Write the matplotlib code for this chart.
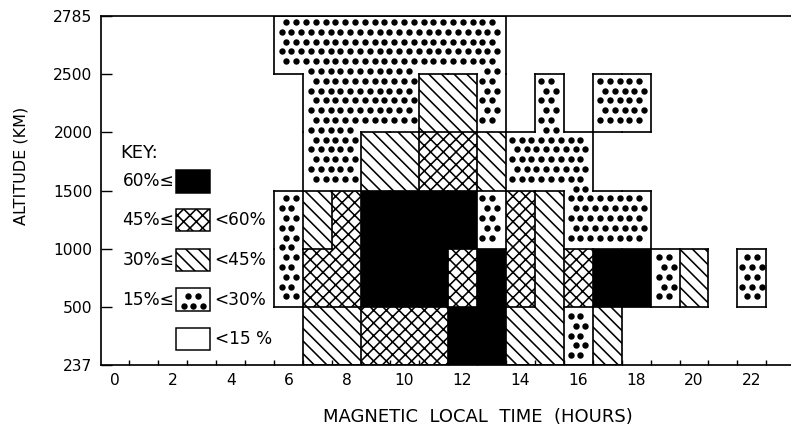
import numpy as np
import matplotlib
matplotlib.use("Agg")
import matplotlib.pyplot as plt
from matplotlib.patches import Rectangle
from matplotlib.collections import LineCollection

# magnetic local time, one column per hour (bin h-0.5 .. h+0.5)
hours = list(range(5, 23))
altitudes = [237, 500, 1000, 1500, 2000, 2500, 2785]
xtick_hours = list(range(0, 23, 2))

# one string per altitude band (bottom to top), one letter per hour in `hours`
# B >=60%, X 45-60%, H 30-45%, D 15-30%, W <15%, . no data
band_237_500 = "..HHXXXBBHHDH....."
band_500_1000 = ".DXXBBBXBXHXBBDH.D"
band_1000_1500 = ".DHXBBBBDXHDDD...."
band_1500_2000 = "..DDHHXXHDDD......"
band_2000_2500 = "..DDDDHHD.D.DD...."
band_2500_2785 = ".DDDDDDDD........."
bands = [band_237_500, band_500_1000, band_1000_1500,
         band_1500_2000, band_2000_2500, band_2500_2785]

key_codes = ["B", "X", "H", "D", "W"]
key_left = ["60%\u2264", "45%\u2264", "30%\u2264", "15%\u2264", ""]
key_right = ["", "<60%", "<45%", "<30%", "<15 %"]

DPI = 114  # hatch spacing follows the dpi
PX_X = 28.95   # pixels per hour
PX_Y = 58.17   # pixels per altitude band


def px(v):
    # pixels -> points
    return v * 72.0 / DPI


# fill / hatch for each class (dots are drawn as markers)
styles = {
    "B": ("black", None),
    "X": ("white", "xxx"),
    "H": ("white", "\\\\\\"),
    "D": ("white", None),
    "W": ("white", None),
}

DOT_STEP = 9.8   # px between dots
DOT_SIZE = 6.4   # px diameter


def cell(x, y, w, h, code, edge=0):
    face, hatch = styles[code]
    return Rectangle((x, y), w, h, facecolor=face, edgecolor="black",
                     linewidth=edge, hatch=hatch)


def dots_in(x0, y0, w, h, margin=4.0):
    # staggered dot lattice inside a box (half open, no duplicates)
    dx, dy = DOT_STEP / PX_X, DOT_STEP / PX_Y
    k0, k1 = int(np.floor(y0 / dy)) - 1, int(np.ceil((y0 + h) / dy)) + 1
    pts = []
    for k in range(k0, k1 + 1):
        yy = k * dy
        shift = dx / 2 if k % 2 else 0.0
        j0 = int(np.floor((x0 - shift) / dx)) - 1
        j1 = int(np.ceil((x0 + w - shift) / dx)) + 1
        for j in range(j0, j1 + 1):
            xx = j * dx + shift
            if x0 <= xx < x0 + w and y0 <= yy < y0 + h:
                pts.append((xx, yy))
    return pts


def far_from(pts, segs, margin):
    # drop dots that would touch an outline (distance in pixels)
    keep = []
    for x, y in pts:
        ok = True
        for (xa, ya), (xb, yb) in segs:
            ux = np.clip(x, min(xa, xb), max(xa, xb))
            uy = np.clip(y, min(ya, yb), max(ya, yb))
            if np.hypot((x - ux) * PX_X, (y - uy) * PX_Y) < margin:
                ok = False
                break
        if ok:
            keep.append((x, y))
    return keep


fig = plt.figure(figsize=(791 / DPI, 426 / DPI), dpi=DPI)
ax = fig.add_axes([100.5 / 791, 61 / 426, 690.5 / 791, 349 / 426])
ax.set_xlim(-0.5, -0.5 + 690.5 / PX_X)
ax.set_ylim(0, len(altitudes) - 1)

# grid of classes, column index = hour
grid = np.full((len(bands) + 2, 26), ".")
for r, s in enumerate(bands):
    for h, c in zip(hours, s):
        grid[r + 1, h] = c

# outlines only where neighbouring classes differ
segs = []
for r in range(len(bands)):
    for h in range(0, 25):
        if grid[r + 1, h] != grid[r + 1, h + 1]:
            segs.append([(h + 0.5, r), (h + 0.5, r + 1)])
for r in range(len(bands) + 1):
    for h in range(0, 25):
        if grid[r, h] != grid[r + 1, h]:
            segs.append([(h - 0.5, r), (h + 0.5, r)])

dots = []
for r in range(len(bands)):
    for h in hours:
        c = grid[r + 1, h]
        if c == ".":
            continue
        ax.add_patch(cell(h - 0.5, r, 1, 1, c))
        if c == "D":
            dots += dots_in(h - 0.5, r, 1, 1)
dots = far_from(dots, segs, 4.0)

ax.add_collection(LineCollection(segs, colors="black", linewidths=px(1.7),
                                 capstyle="projecting", zorder=3))

# key boxes
ax.text(0.19, 3.645, "KEY:", fontsize=px(18), ha="left", va="center")
key_y = [3.155, 2.493, 1.805, 1.126, 0.447]
bw, bh = 1.17, 0.395
for code, y, lt, rt in zip(key_codes, key_y, key_left, key_right):
    x0, y0 = 2.12, y - bh / 2
    ax.add_patch(cell(x0, y0, bw, bh, code, edge=px(1.5)))
    if code == "D":
        box = [[(x0, y0), (x0 + bw, y0)], [(x0, y0 + bh), (x0 + bw, y0 + bh)],
               [(x0, y0), (x0, y0 + bh)], [(x0 + bw, y0), (x0 + bw, y0 + bh)]]
        dots += far_from(dots_in(x0, y0, bw, bh), box, 3.5)
    ax.text(2.06, y, lt, fontsize=px(17), ha="right", va="center")
    ax.text(3.44, y, rt, fontsize=px(17), ha="left", va="center")

ax.scatter([d[0] for d in dots], [d[1] for d in dots], s=px(DOT_SIZE) ** 2,
           c="black", linewidths=0, zorder=2.5)

ax.set_xticks(xtick_hours)
ax.set_xticklabels([str(h) for h in xtick_hours], fontsize=px(15.5))
ax.set_xticks(np.arange(0.5, 23, 1), minor=True)
ax.tick_params(axis="x", which="major", length=0, pad=px(8))
ax.tick_params(axis="x", which="minor", direction="in", length=px(5),
               width=px(1.4))
ax.set_yticks(range(len(altitudes)))
ax.set_yticklabels([str(a) for a in altitudes], fontsize=px(15.5))
ax.tick_params(axis="y", direction="in", length=px(10.5), width=px(1.4),
               pad=px(8))

ax.spines["right"].set_visible(False)
for s in ["left", "bottom", "top"]:
    ax.spines[s].set_linewidth(px(1.7))

fig.text(478 / 791, 1 - 417 / 426, "MAGNETIC  LOCAL  TIME  (HOURS)",
         fontsize=px(18), ha="center", va="center")
fig.text(21 / 791, 1 - 166 / 426, "ALTITUDE (KM)", fontsize=px(16),
         rotation=90, ha="center", va="center")

fig.savefig("out.png", dpi=DPI)
